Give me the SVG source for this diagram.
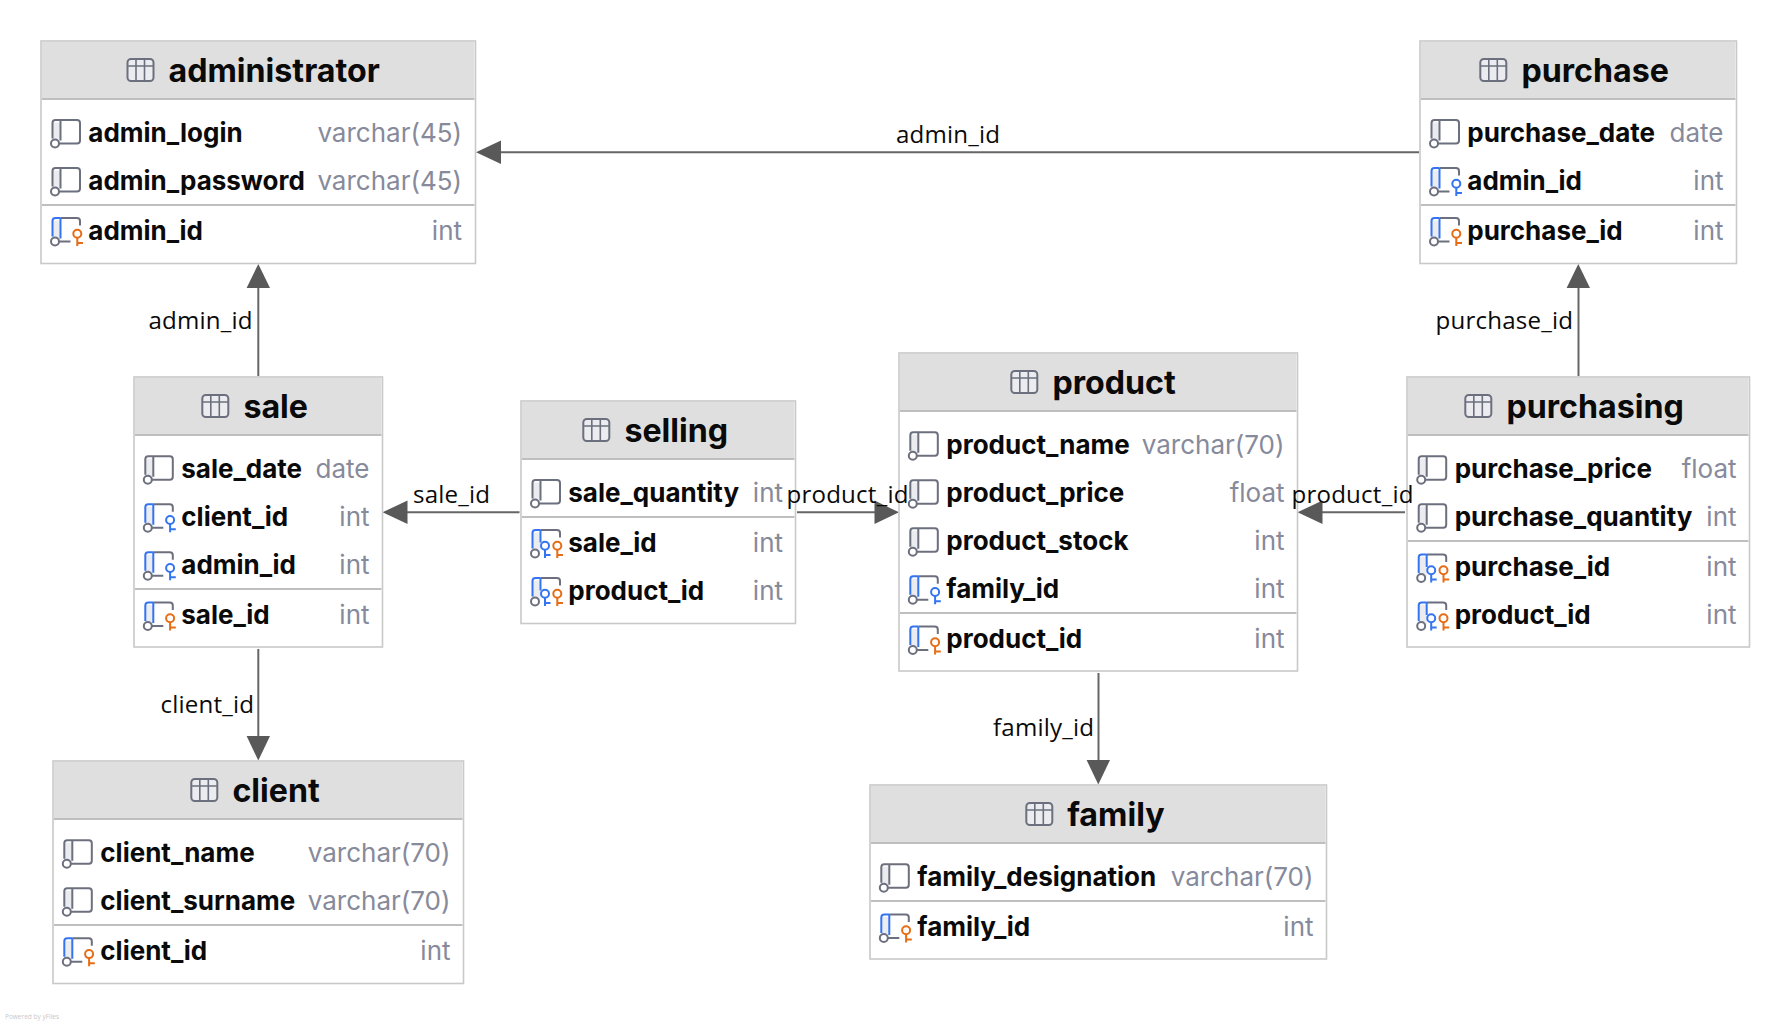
<svg xmlns="http://www.w3.org/2000/svg" xmlns:xlink="http://www.w3.org/1999/xlink" width="1790" height="1024" viewBox="0 0 1790 1024">
<style>
.box{fill:#fff;stroke:#c9c9c9;stroke-width:1.6}
.hd{fill:#dfdfdf}
.ln{stroke:#bfbfbf;stroke-width:2;fill:none}
.tt{font:700 32.2px Inter,"Liberation Sans",sans-serif;fill:#0a0a0a}
.n{font:700 26px Inter,"Liberation Sans",sans-serif;fill:#0a0a0a}
.t{font:400 26px Inter,"Liberation Sans",sans-serif;fill:#868a9b;text-anchor:end}
.e{font:400 24.1px "Open Sans","Noto Sans",sans-serif;fill:#0a0a0a;letter-spacing:.2px}
.c{stroke:#666;stroke-width:2;fill:none}
.h{fill:#595959}
.ic{fill:none;stroke:#6c707e;stroke-width:2}
.bl{fill:none;stroke:#3574f0;stroke-width:2}
.or{fill:none;stroke:#e66d17;stroke-width:2}
</style>
<defs>
<g id="tbl"><rect x="1" y="1" width="26" height="22" rx="3.5" fill="#ebecf0" stroke="#6c707e" stroke-width="2"/><path d="M1 8H27M9.5 1V23M18 1V23" stroke="#6c707e" stroke-width="1.6" fill="none"/></g>
<g id="col"><path d="M12 -19H20V0H12Z" fill="#ebecf0"/><path d="M12 -3V-18.5Q12 -21.5 15 -21.5H36.5Q39.5 -21.5 39.5 -18.5V-1Q39.5 2 36.5 2H18.5M20 -21.5V-1" class="ic"/><circle cx="14.5" cy="2" r="4" fill="#fff" stroke="#6c707e" stroke-width="2"/></g>
<g id="kbase"><path d="M12 -19H20V0H12Z" fill="#ebecf0"/><path d="M20 -21.5H36.5Q39.5 -21.5 39.5 -18.5V-14M18.5 2H30" class="ic"/><path d="M12 -3V-18.5Q12 -21.5 15 -21.5H20M20 -21.5V-1" class="bl"/><circle cx="14.5" cy="2" r="4" fill="#fff" stroke="#6c707e" stroke-width="2"/></g>
<g id="pkey"><circle cx="36.8" cy="-5.7" r="4" class="or"/><path d="M36.8 -2V6.5M36.8 3.5H42.5" class="or"/></g>
<g id="fkey"><circle cx="36.8" cy="-5.7" r="4" class="bl"/><path d="M36.8 -2V6.5M36.8 3.5H42.5" class="bl"/></g>
<g id="pk"><use xlink:href="#kbase"/><use xlink:href="#pkey"/></g>
<g id="fk"><use xlink:href="#kbase"/><use xlink:href="#fkey"/></g>
<g id="pf"><path d="M12 -19H20V0H12Z" fill="#ebecf0"/><path d="M20 -21.5H36.5Q39.5 -21.5 39.5 -18.5V-14" class="ic"/><path d="M12 -3V-18.5Q12 -21.5 15 -21.5H20M20 -21.5V-9" class="bl"/><circle cx="14.5" cy="2" r="4" fill="#fff" stroke="#6c707e" stroke-width="2"/><circle cx="24.5" cy="-5.7" r="4" class="bl"/><path d="M24.5 -2V6.5M24.5 3.5H30" class="bl"/><use xlink:href="#pkey"/></g>
</defs>
<rect width="1790" height="1024" fill="#fff"/>
<g id="connectors">
<path class="c" d="M1419 152.3H495"/><path class="h" d="M476 152.3L501 140.6V164Z"/>
<path class="c" d="M258.3 376V280"/><path class="h" d="M258.3 264L270 288H246.6Z"/>
<path class="c" d="M258.3 649V745"/><path class="h" d="M258.3 760.5L246.6 736H270Z"/>
<path class="c" d="M519.5 512.3H400"/><path class="h" d="M382.5 512.3L407.5 500.6V524Z"/>
<path class="c" d="M797 512.3H880"/><path class="h" d="M899 512.3L874.5 500.6V524Z"/>
<path class="c" d="M1405 512.3H1315"/><path class="h" d="M1297.5 512.3L1322.5 500.6V524Z"/>
<path class="c" d="M1578.5 376V280"/><path class="h" d="M1578.3 264L1590 288H1566.6Z"/>
<path class="c" d="M1098.5 673V770"/><path class="h" d="M1098.3 784.5L1086.6 760H1110Z"/>
</g>
<g id="administrator">
<rect class="box" x="41" y="41" width="434.5" height="222.5"/><rect class="hd" x="42" y="42" width="432.5" height="56"/><path class="ln" d="M42 99H474.5M42 205H474.5"/>
<use xlink:href="#tbl" x="126.5" y="58"/><text class="tt" x="168.5" y="81.5">administrator</text>
<use xlink:href="#col" x="40.5" y="141.5"/><text class="n" x="88.3" y="141.5">admin_login</text><text class="t" x="462" y="141.5">varchar(45)</text>
<use xlink:href="#col" x="40.5" y="189.5"/><text class="n" x="88.3" y="189.5">admin_password</text><text class="t" x="462" y="189.5">varchar(45)</text>
<use xlink:href="#pk" x="40.5" y="239.5"/><text class="n" x="88.3" y="239.5">admin_id</text><text class="t" x="462" y="239.5">int</text>
</g>
<g id="purchase">
<rect class="box" x="1420" y="41" width="316.5" height="222.5"/><rect class="hd" x="1421" y="42" width="314.5" height="56"/><path class="ln" d="M1421 99H1735.5M1421 205H1735.5"/>
<use xlink:href="#tbl" x="1479.3" y="58"/><text class="tt" x="1521.4" y="81.5">purchase</text>
<use xlink:href="#col" x="1419.5" y="141.5"/><text class="n" x="1467.3" y="141.5">purchase_date</text><text class="t" x="1723.5" y="141.5">date</text>
<use xlink:href="#fk" x="1419.5" y="189.5"/><text class="n" x="1467.3" y="189.5">admin_id</text><text class="t" x="1723.5" y="189.5">int</text>
<use xlink:href="#pk" x="1419.5" y="239.5"/><text class="n" x="1467.3" y="239.5">purchase_id</text><text class="t" x="1723.5" y="239.5">int</text>
</g>
<g id="sale">
<rect class="box" x="134" y="377" width="248.5" height="270"/><rect class="hd" x="135" y="378" width="246.5" height="56"/><path class="ln" d="M135 435H381.5M135 589H381.5"/>
<use xlink:href="#tbl" x="201.3" y="394"/><text class="tt" x="243.4" y="417.7">sale</text>
<use xlink:href="#col" x="133.3" y="477.7"/><text class="n" x="181.3" y="477.7">sale_date</text><text class="t" x="369.5" y="477.7">date</text>
<use xlink:href="#fk" x="133.3" y="525.7"/><text class="n" x="181.3" y="525.7">client_id</text><text class="t" x="369.5" y="525.7">int</text>
<use xlink:href="#fk" x="133.3" y="573.7"/><text class="n" x="181.3" y="573.7">admin_id</text><text class="t" x="369.5" y="573.7">int</text>
<use xlink:href="#pk" x="133.3" y="624"/><text class="n" x="181.3" y="624">sale_id</text><text class="t" x="369.5" y="624">int</text>
</g>
<g id="selling">
<rect class="box" x="521" y="401" width="274.5" height="222.5"/><rect class="hd" x="522" y="402" width="272.5" height="56"/><path class="ln" d="M522 459H794.5M522 517H794.5"/>
<use xlink:href="#tbl" x="582.3" y="418"/><text class="tt" x="624.4" y="441.5">selling</text>
<use xlink:href="#col" x="520.5" y="501.5"/><text class="n" x="568.3" y="501.5">sale_quantity</text><text class="t" x="783" y="501.5">int</text>
<use xlink:href="#pf" x="520.5" y="551.5"/><text class="n" x="568.3" y="551.5">sale_id</text><text class="t" x="783" y="551.5">int</text>
<use xlink:href="#pf" x="520.5" y="599.5"/><text class="n" x="568.3" y="599.5">product_id</text><text class="t" x="783" y="599.5">int</text>
</g>
<g id="product">
<rect class="box" x="899" y="353" width="398.5" height="318"/><rect class="hd" x="900" y="354" width="396.5" height="56"/><path class="ln" d="M900 411H1296.5M900 613H1296.5"/>
<use xlink:href="#tbl" x="1010.3" y="370"/><text class="tt" x="1052.4" y="393.7">product</text>
<use xlink:href="#col" x="898.3" y="453.7"/><text class="n" x="946.3" y="453.7">product_name</text><text class="t" x="1284.5" y="453.7">varchar(70)</text>
<use xlink:href="#col" x="898.3" y="501.7"/><text class="n" x="946.3" y="501.7">product_price</text><text class="t" x="1284.5" y="501.7">float</text>
<use xlink:href="#col" x="898.3" y="549.7"/><text class="n" x="946.3" y="549.7">product_stock</text><text class="t" x="1284.5" y="549.7">int</text>
<use xlink:href="#fk" x="898.3" y="597.7"/><text class="n" x="946.3" y="597.7">family_id</text><text class="t" x="1284.5" y="597.7">int</text>
<use xlink:href="#pk" x="898.3" y="648"/><text class="n" x="946.3" y="648">product_id</text><text class="t" x="1284.5" y="648">int</text>
</g>
<g id="purchasing">
<rect class="box" x="1407" y="377" width="342.5" height="270"/><rect class="hd" x="1408" y="378" width="340.5" height="56"/><path class="ln" d="M1408 435H1748.5M1408 541H1748.5"/>
<use xlink:href="#tbl" x="1464.3" y="394"/><text class="tt" x="1506.4" y="417.7">purchasing</text>
<use xlink:href="#col" x="1406.7" y="477.7"/><text class="n" x="1454.7" y="477.7">purchase_price</text><text class="t" x="1736.5" y="477.7">float</text>
<use xlink:href="#col" x="1406.7" y="525.7"/><text class="n" x="1454.7" y="525.7">purchase_quantity</text><text class="t" x="1736.5" y="525.7">int</text>
<use xlink:href="#pf" x="1406.7" y="576"/><text class="n" x="1454.7" y="576">purchase_id</text><text class="t" x="1736.5" y="576">int</text>
<use xlink:href="#pf" x="1406.7" y="624"/><text class="n" x="1454.7" y="624">product_id</text><text class="t" x="1736.5" y="624">int</text>
</g>
<g id="client">
<rect class="box" x="53" y="761" width="410.5" height="222.5"/><rect class="hd" x="54" y="762" width="408.5" height="56"/><path class="ln" d="M54 819H462.5M54 925H462.5"/>
<use xlink:href="#tbl" x="190.3" y="778"/><text class="tt" x="232.4" y="801.8">client</text>
<use xlink:href="#col" x="52.3" y="861.8"/><text class="n" x="100.3" y="861.8">client_name</text><text class="t" x="450.5" y="861.8">varchar(70)</text>
<use xlink:href="#col" x="52.3" y="909.8"/><text class="n" x="100.3" y="909.8">client_surname</text><text class="t" x="450.5" y="909.8">varchar(70)</text>
<use xlink:href="#pk" x="52.3" y="959.8"/><text class="n" x="100.3" y="959.8">client_id</text><text class="t" x="450.5" y="959.8">int</text>
</g>
<g id="family">
<rect class="box" x="870" y="785" width="456.5" height="174"/><rect class="hd" x="871" y="786" width="454.5" height="56"/><path class="ln" d="M871 843H1325.5M871 901H1325.5"/>
<use xlink:href="#tbl" x="1025.3" y="802"/><text class="tt" x="1067.2" y="825.7">family</text>
<use xlink:href="#col" x="869.3" y="885.7"/><text class="n" x="917.3" y="885.7">family_designation</text><text class="t" x="1313.5" y="885.7">varchar(70)</text>
<use xlink:href="#pk" x="869.3" y="936"/><text class="n" x="917.3" y="936">family_id</text><text class="t" x="1313.5" y="936">int</text>
</g>
<g id="connector-labels">
<text class="e" x="896" y="142.5">admin_id</text>
<text class="e" x="148.5" y="329">admin_id</text>
<text class="e" x="160.5" y="712.5">client_id</text>
<text class="e" x="413" y="503">sale_id</text>
<text class="e" x="786.5" y="503">product_id</text>
<text class="e" x="1291.5" y="503">product_id</text>
<text class="e" x="1435.5" y="329">purchase_id</text>
<text class="e" x="993" y="735.5">family_id</text>
</g>
<text x="5" y="1019" style="font:400 6.5px 'Open Sans',sans-serif;fill:#c8c8c8">Powered by yFiles</text>
</svg>
